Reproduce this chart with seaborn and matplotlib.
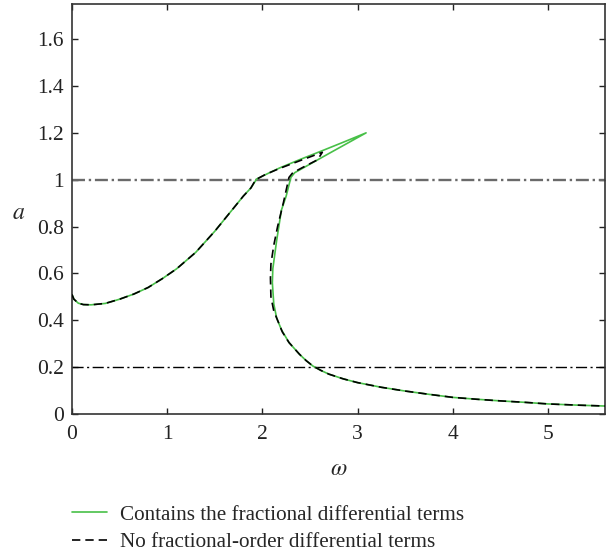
import numpy as np
import pandas as pd
import matplotlib
matplotlib.use("Agg")
import matplotlib.pyplot as plt
import seaborn as sns
from matplotlib.ticker import FuncFormatter

# ---- data ----
frac_omega = [0.0, 0.02, 0.066, 0.12, 0.2, 0.35, 0.5, 0.65, 0.8, 0.95, 1.1, 1.3, 1.5, 1.7, 1.8, 1.88, 1.94,
              2.05, 2.18, 2.4, 2.63, 2.85, 3.09,
              2.7, 2.34, 2.30,
              2.25, 2.2, 2.15, 2.11, 2.105, 2.12, 2.15, 2.2, 2.28, 2.39, 2.46, 2.53, 2.62, 2.7, 2.85, 3.0, 3.25, 3.5,
              3.75, 4.0, 4.25, 4.5, 4.75, 5.0, 5.3, 5.6]
frac_a = [0.51, 0.49, 0.473, 0.467, 0.466, 0.472, 0.49, 0.512, 0.54, 0.578, 0.62, 0.69, 0.78, 0.88, 0.93, 0.965, 1.003,
          1.025, 1.05, 1.087, 1.124, 1.16, 1.2,
          1.112, 1.03, 1.01,
          0.93, 0.87, 0.74, 0.62, 0.56, 0.47, 0.41, 0.36, 0.305, 0.255, 0.228, 0.205, 0.185, 0.17, 0.15, 0.134, 0.114,
          0.098, 0.084, 0.071, 0.063, 0.056, 0.05, 0.043, 0.038, 0.034]

nofrac_omega = [0.0, 0.02, 0.066, 0.12, 0.2, 0.35, 0.5, 0.65, 0.8, 0.95, 1.1, 1.3, 1.5, 1.7, 1.8, 1.88, 1.93,
                2.03, 2.18, 2.4, 2.63,
                2.58, 2.45, 2.32, 2.28,
                2.22, 2.16, 2.12, 2.09, 2.085, 2.09, 2.12, 2.16, 2.21, 2.28, 2.39, 2.46, 2.53, 2.62, 2.7, 2.85, 3.0,
                3.25, 3.5, 3.75, 4.0, 4.25, 4.5, 4.75, 5.0, 5.3, 5.6]
nofrac_a = [0.51, 0.49, 0.473, 0.467, 0.466, 0.472, 0.49, 0.512, 0.54, 0.578, 0.62, 0.69, 0.78, 0.88, 0.93, 0.965, 1.0,
            1.022, 1.048, 1.082, 1.117,
            1.085, 1.058, 1.03, 1.01,
            0.9, 0.8, 0.72, 0.64, 0.58, 0.5, 0.44, 0.4, 0.35, 0.305, 0.255, 0.228, 0.205, 0.185, 0.17, 0.15, 0.134,
            0.114, 0.098, 0.084, 0.071, 0.063, 0.056, 0.05, 0.043, 0.038, 0.034]

ref_levels = [1.0, 0.2]
x_ticks = [0, 1, 2, 3, 4, 5]
y_ticks = [0, 0.2, 0.4, 0.6, 0.8, 1.0, 1.2, 1.4, 1.6]
label_frac = "Contains the fractional differential terms"
label_nofrac = "No fractional-order differential terms"

# ---- style ----
sns.set_style("ticks")
plt.rcParams["font.family"] = ["Liberation Serif", "DejaVu Serif"]
plt.rcParams["mathtext.fontset"] = "stix"

fig = plt.figure(figsize=(6.12, 5.55), dpi=100)
ax = fig.add_axes([72 / 612, 1 - 414 / 555, (605 - 72) / 612, (414 - 4) / 555])

green = "#48c048"

df_frac = pd.DataFrame({"omega": frac_omega, "a": frac_a})
df_nofrac = pd.DataFrame({"omega": nofrac_omega, "a": nofrac_a})

# reference lines
ax.axhline(ref_levels[0], color="#6a6a6a", lw=1.7, linestyle=(0, (5.5, 1.6, 1, 1.6)), zorder=1)
ax.axhline(ref_levels[1], color="black", lw=1.0, linestyle=(0, (8, 2.5, 1.5, 2.5)), zorder=1)

sns.lineplot(data=df_frac, x="omega", y="a", sort=False, estimator=None, ax=ax,
             color=green, lw=1.2, label=label_frac, zorder=2)
sns.lineplot(data=df_nofrac, x="omega", y="a", sort=False, estimator=None, ax=ax,
             color="black", lw=1.2, linestyle=(0, (5, 3)), label=label_nofrac, zorder=3)

ax.set_xlim(0, 5.6)
ax.set_ylim(0, 1.75)
ax.set_xticks(x_ticks)
ax.set_yticks(y_ticks)
fmt = FuncFormatter(lambda v, p: f"{v:g}")
ax.xaxis.set_major_formatter(fmt)
ax.yaxis.set_major_formatter(fmt)

ax.tick_params(direction="in", length=4, width=1, top=True, right=True,
               labelsize=15.5, colors="#222222", pad=6)
ax.tick_params(axis="x", pad=8)
for s in ax.spines.values():
    s.set_visible(True)
    s.set_color("#333333")
    s.set_linewidth(1.2)

ax.set_xlabel(r"$\omega$", fontsize=17, labelpad=11)
ax.set_ylabel(r"$a$", fontsize=17, rotation=0, va="center")
ax.yaxis.set_label_coords(-0.1, 0.49)

handles, labels = ax.get_legend_handles_labels()
ax.get_legend().remove()
fig.legend(handles, labels, loc="upper left", bbox_to_anchor=(72 / 612, 1 - 505 / 555),
           frameon=False, fontsize=15.2, handlelength=1.65, handletextpad=0.6,
           labelspacing=0.36, borderpad=0, borderaxespad=0)

fig.savefig("out.png", dpi=100)
